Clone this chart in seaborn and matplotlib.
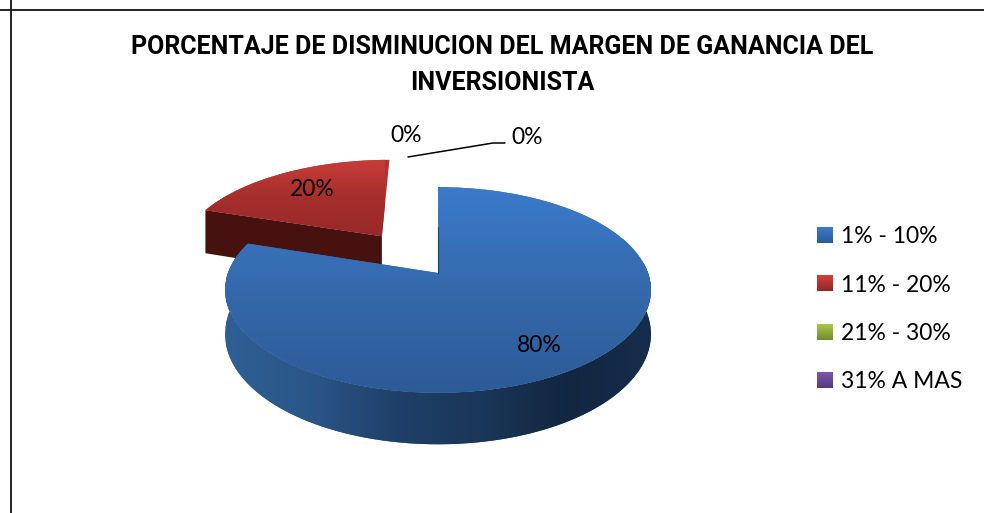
import matplotlib
matplotlib.use('Agg')
import numpy as np
import matplotlib.pyplot as plt
import matplotlib.transforms as mtrans
from matplotlib.colors import LinearSegmentedColormap
from matplotlib.path import Path
import seaborn as sns

categories = ['1% - 10%', '11% - 20%', '21% - 30%', '31% A MAS']
percentages = [80, 20, 0, 0]
explode = [0, 0.484, 0, 0]
title_text = 'PORCENTAJE DE DISMINUCION DEL MARGEN DE GANANCIA DEL\nINVERSIONISTA'

sns.set_theme(style='white')
plt.rcParams['font.family'] = ['Lato', 'DejaVu Sans']
palette = sns.color_palette(['#3569ab', '#b23431', '#8aaa3c', '#6b4a94'])
swatch_ramps = [['#3b7bc9', '#2d5a97'], ['#d13f3b', '#8f2a28'],
                ['#a9c94a', '#6f8a30'], ['#7d56ad', '#553a7d']]

# centro del pastel y escala en pixeles de la figura
APEX = (438, 273)
SCALE_X, SCALE_Y, PERSP = 210.0, 100.0, 0.165
DEPTH = 43.0
RED_DEPTH = 48.0


class Perspective(mtrans.Transform):
    """Pastel unitario -> pixeles, con perspectiva simple."""
    input_dims = 2
    output_dims = 2
    is_separable = False
    has_inverse = False

    def __init__(self, extrude=0.0):
        super().__init__()
        self.extrude = extrude

    def transform_non_affine(self, values):
        values = np.asarray(values, dtype=float)
        w = 1 + PERSP * values[:, 1]
        px = APEX[0] + SCALE_X * values[:, 0] / w
        py = APEX[1] - SCALE_Y * values[:, 1] / w + self.extrude / w
        return np.column_stack([px, py])

    def transform_path_non_affine(self, path):
        return Path(self.transform_non_affine(path.vertices), path.codes)


def gradient(ax, colors, extent, vertical=True, zorder=1):
    ramp = np.linspace(0, 1, 256)
    ramp = ramp.reshape(-1, 1) if vertical else ramp.reshape(1, -1)
    cmap = LinearSegmentedColormap.from_list('g', colors)
    return ax.imshow(ramp, cmap=cmap, extent=extent, aspect='auto',
                     interpolation='bilinear', zorder=zorder)


fig = plt.figure(figsize=(9.84, 5.13), dpi=100)
ax = fig.add_axes([0, 0, 1, 1])

wedges, _ = ax.pie(percentages, explode=explode, startangle=90, counterclock=False,
                   colors=palette, wedgeprops={'linewidth': 0})
top = Perspective(0.0)
bottom = Perspective(DEPTH)
for wedge in wedges:
    wedge.set_transform(top + ax.transData)

blue, red = wedges[0], wedges[1]

# cara lateral del sector rojo
corner = np.radians(red.theta2)
cx, cy = red.center
quad = np.array([[cx, cy], [cx + np.cos(corner), cy + np.sin(corner)]])
side = np.vstack([top.transform(quad), Perspective(RED_DEPTH).transform(quad)[::-1]])
ax.fill(side[:, 0], side[:, 1], color='#46110f', lw=0, zorder=1)
red.set_zorder(2)

im = gradient(ax, ['#cb3e3a', '#a62f2c', '#96292a'], (195, 385, 238, 156), zorder=3)
im.set_clip_path(red)

# cara lateral del sector azul
theta = np.radians(np.linspace(blue.theta1, 6, 240))
arc = np.column_stack([np.cos(theta), np.sin(theta)])
side = np.vstack([top.transform(arc), bottom.transform(arc)[::-1]])
poly = ax.fill(side[:, 0], side[:, 1], color='#2a5687', lw=0, zorder=4)[0]
im = gradient(ax, ['#2f5f94', '#2a5687', '#1f4068', '#1a3658', '#12263f', '#162d4d'],
              (226, 654, 450, 240), vertical=False, zorder=5)
im.set_clip_path(poly)

blue.set_zorder(6)
im = gradient(ax, ['#3b7bcb', '#3569ab', '#2d5a97'], (220, 660, 396, 185), zorder=7)
im.set_clip_path(blue)
edge = top.transform(np.array([[0, 0], [0, 0.5]]))
ax.plot(edge[:, 0], edge[:, 1], color='#1d3f66', lw=0.8, zorder=8)

# etiquetas
font_lbl = 16.5
ax.text(539, 345, f'{percentages[0]}%', ha='center', va='center', fontsize=font_lbl, color='black', zorder=10)
ax.text(312, 190, f'{percentages[1]}%', ha='center', va='center', fontsize=font_lbl, color='black', zorder=10)
ax.text(406, 135, f'{percentages[2]}%', ha='center', va='center', fontsize=font_lbl, color='black', zorder=10)
ax.text(527, 138, f'{percentages[3]}%', ha='center', va='center', fontsize=font_lbl, color='black', zorder=10)
ax.plot([408, 493, 505], [157, 143, 143], color='black', lw=1.1, zorder=10)

ax.text(502, 65, title_text, ha='center', va='center', fontsize=18, fontweight='bold',
        family=['Roboto', 'Liberation Sans'], linespacing=1.58, color='black')

leg = ax.legend(wedges, categories, loc='upper left', bbox_to_anchor=(817, 226),
                bbox_transform=ax.transData, frameon=False, fontsize=font_lbl,
                handlelength=0.655, handleheight=0.655, handletextpad=0.39,
                labelspacing=1.2, borderpad=0, borderaxespad=0)
for t in leg.get_texts():
    t.set_color('black')

ax.set_aspect('auto')
ax.set_xlim(0, 984)
ax.set_ylim(513, 0)
ax.axvline(10.5, color='#222222', lw=1.4)
ax.axhline(9.5, color='#222222', lw=1.4)

# degradado en los cuadros de la leyenda
fig.canvas.draw()
to_data = ax.transData.inverted()
for handle, ramp in zip(leg.legend_handles, swatch_ramps):
    (x0, y0), (x1, y1) = to_data.transform(handle.get_window_extent().get_points())
    gradient(ax, ramp, (x0, x1, y0, y1), zorder=11)
ax.set_xlim(0, 984)
ax.set_ylim(513, 0)

fig.savefig('out.png', dpi=100)
